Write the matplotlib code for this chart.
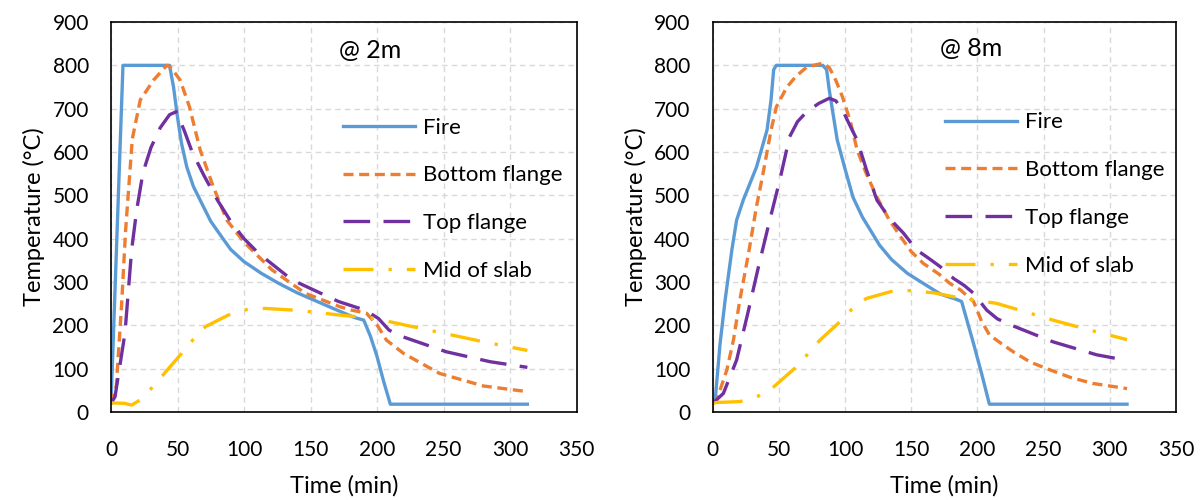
import matplotlib.pyplot as plt

plt.rcParams['font.family'] = ['Lato', 'DejaVu Sans']

# ---- @ 2m ----
fire_2m_t = [0, 9, 42, 44, 47, 50, 53, 57, 62, 67, 75, 83, 90, 100, 113, 126, 140, 158, 170, 183, 190, 195, 200, 205, 210, 313]
fire_2m_T = [20, 800, 800, 800, 750, 680, 620, 565, 520, 489, 440, 405, 375, 347, 320, 297, 275, 251, 235, 218, 212, 175, 128, 70, 18, 18]
bot_2m_t = [0, 4, 8, 11, 16, 22, 32, 42, 45, 52, 59, 67, 77, 87, 100, 121, 146, 172, 181, 192, 200, 207, 220, 247, 280, 313]
bot_2m_T = [20, 60, 250, 420, 630, 720, 766, 800, 795, 766, 704, 605, 519, 443, 392, 328, 274, 243, 235, 228, 201, 166, 135, 89, 60, 47]
top_2m_t = [0, 3, 10.5, 15.5, 19.3, 24, 30, 37, 44, 49, 55, 61, 70, 80, 90, 100, 111, 136, 171, 191, 201, 209, 218, 252, 285, 313]
top_2m_T = [20, 35, 182, 374, 466, 552, 610, 656, 686, 693, 650, 600, 545, 489, 440, 400, 366, 305, 255, 235, 216, 189, 175, 139, 116, 103]
mid_2m_t = [0, 10, 15.5, 22, 30.5, 39, 53, 62, 71, 91, 103, 116, 138, 151, 171, 191, 200, 210, 245, 280, 313]
mid_2m_T = [21, 20, 16, 28, 55, 85, 135, 168, 197, 228, 237, 239, 235, 231, 224, 218, 215, 208, 185, 162, 142]

# ---- @ 8m ----
fire_8m_t = [0, 2, 5.5, 9.3, 14.4, 18, 23, 33, 41, 44, 46, 48, 83, 86, 88, 94, 100, 106, 113, 121, 126, 135, 147, 160, 172, 184, 188, 197, 203, 209, 313]
fire_8m_T = [20, 35, 158, 258, 374, 443, 489, 565, 651, 720, 790, 800, 800, 790, 743, 628, 560, 495, 450, 410, 385, 352, 320, 295, 272, 260, 255, 158, 90, 18, 18]
bot_8m_t = [0, 3, 10.6, 15.6, 20.4, 27, 33, 38, 44, 48, 56, 63, 71, 83, 88, 93, 98, 104, 109, 116, 124, 133, 142, 150, 159, 171, 179, 187, 197, 203, 209, 218, 227, 240, 255, 270, 287, 313]
bot_8m_T = [20, 28, 97, 166, 258, 366, 474, 551, 650, 704, 750, 775, 796, 805, 795, 765, 727, 670, 605, 550, 496, 445, 404, 370, 343, 318, 297, 282, 255, 210, 178, 158, 139, 115, 97, 80, 66, 54]
top_8m_t = [0, 8, 18, 27, 34.5, 42, 50.6, 58, 64, 71, 80, 88, 93, 98, 103, 109, 116, 124, 134, 144, 154, 163, 172, 182, 190, 197, 207, 215, 225, 257, 290, 313]
top_8m_T = [20, 43, 120, 235, 335, 430, 535, 635, 670, 693, 712, 724, 718, 697, 665, 628, 560, 489, 445, 413, 374, 355, 335, 308, 292, 274, 235, 215, 201, 162, 132, 119]
mid_8m_t = [0, 3, 20.6, 34.5, 46, 62, 71, 81, 96, 105, 116, 137, 149, 167, 182, 197, 214, 232, 257, 290, 313]
mid_8m_T = [20, 22, 24, 37, 58, 101, 131, 166, 208, 237, 262, 280, 280, 275, 266, 258, 251, 235, 212, 185, 167]

labels = ['Fire', 'Bottom flange', 'Top flange', 'Mid of slab']
colors = ['#5B9BD5', '#ED7D31', '#7030A0', '#FFC000']
styles = ['-', (0, (3, 1.7)), (0, (8, 4)), (0, (9, 4.5, 1, 4.5))]

panels = [
    ('@ 2m', [(fire_2m_t, fire_2m_T), (bot_2m_t, bot_2m_T), (top_2m_t, top_2m_T), (mid_2m_t, mid_2m_T)],
     (0.49, 0.928), (0.498, 0.755)),
    ('@ 8m', [(fire_8m_t, fire_8m_T), (bot_8m_t, bot_8m_T), (top_8m_t, top_8m_T), (mid_8m_t, mid_8m_T)],
     (0.49, 0.933), (0.501, 0.768)),
]

fig = plt.figure(figsize=(12, 5), dpi=100)
rects = [[0.0925, 0.176, 0.388, 0.78], [0.594, 0.176, 0.386, 0.78]]

for rect, (tag, series, tag_pos, leg_pos) in zip(rects, panels):
    ax = fig.add_axes(rect)
    for (t, T), lab, c, ls in zip(series, labels, colors, styles):
        ax.plot(t, T, color=c, linestyle=ls, linewidth=2.4, label=lab)
    ax.set_xlim(0, 350)
    ax.set_ylim(0, 900)
    ax.set_xticks(range(0, 351, 50))
    ax.set_yticks(range(0, 901, 100))
    ax.grid(True, color='#d9d9d9', linestyle=(0, (4, 3)), linewidth=1)
    ax.set_axisbelow(True)
    ax.tick_params(length=0, labelsize=15)
    ax.tick_params(axis='x', pad=20)
    ax.tick_params(axis='y', pad=16)
    for s in ax.spines.values():
        s.set_color('black')
        s.set_linewidth(1.2)
    ax.set_xlabel('Time (min)', fontsize=17, labelpad=11)
    ax.set_ylabel('Temperature (°C)', fontsize=17, labelpad=5)
    ax.text(tag_pos[0], tag_pos[1], tag, transform=ax.transAxes, fontsize=18, va='center')
    ax.legend(loc='upper left', bbox_to_anchor=leg_pos, frameon=False, borderpad=0,
              borderaxespad=0, fontsize=16, handlelength=3.25, labelspacing=1.25,
              handletextpad=0.36)

fig.savefig('out.png', dpi=100)
